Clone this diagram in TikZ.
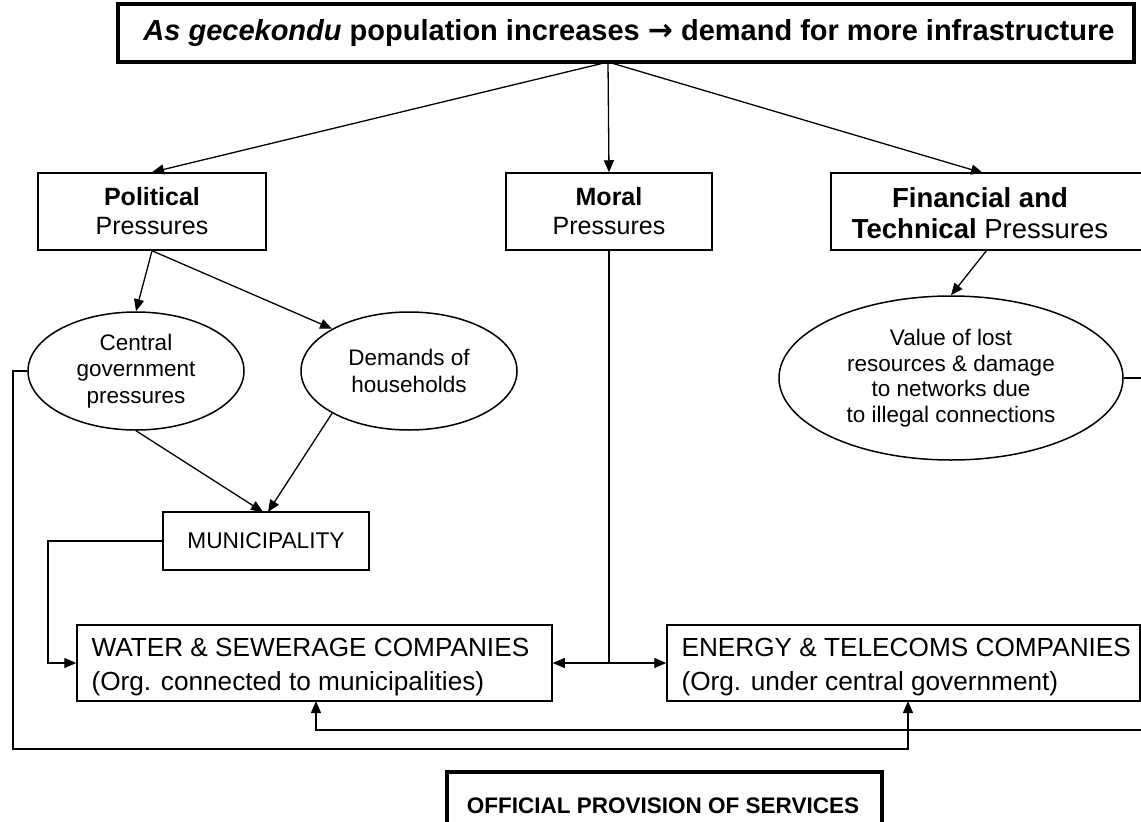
\documentclass[tikz,border=0pt]{standalone}
\usepackage{fontspec}
\setmainfont{Liberation Sans}
\newfontfamily\arrowfont{DejaVu Sans}
\usetikzlibrary{arrows.meta,shapes.geometric}

\tikzset{
  conn/.style={line width=1.3pt},
  arr/.style={conn,-{Triangle[length=12pt,width=10pt]}},
  pbox/.style={draw,line width=1.5pt,rectangle,inner sep=0pt,align=center,
    font=\fontsize{25}{29}\selectfont},
  oval/.style={draw,line width=1.5pt,ellipse,inner sep=0pt,align=center,
    font=\fontsize{22.5}{26.5}\selectfont},
  cobox/.style={draw,line width=1.5pt,rectangle,inner sep=0pt},
  cotext/.style={anchor=west,align=left,font=\fontsize{26.2}{34.5}\selectfont},
  heavybox/.style={draw,line width=4pt,rectangle,inner sep=0pt,align=center},
}

\begin{document}
\begin{tikzpicture}[x=1pt,y=-1pt]
\useasboundingbox (0,0) rectangle (1141,822);
\fill[white] (0,0) rectangle (1141,822);

% headline
\node[heavybox,minimum width=1016pt,minimum height=58pt] (head) at (626,33) {};
\node[font=\bfseries\fontsize{29}{32}\selectfont] (headtxt) at (629,33)
  {\itshape As gecekondu\upshape{} population increases
   {\arrowfont\bfseries\fontsize{30}{32}\selectfont →} demand for more infrastructure};
\coordinate (apex) at (608,62);

% three kinds of pressure
\node[pbox,minimum width=228pt,minimum height=77pt] (pol) at (152,211.5)
  {\textbf{Political}\\Pressures};
\node[pbox,minimum width=206pt,minimum height=77pt] (mor) at (609,211.5)
  {\textbf{Moral}\\Pressures};
\node[pbox,minimum width=330pt,minimum height=77pt] (fin) at (996,211.5) {};
\node[font=\fontsize{27.5}{31}\selectfont,align=center] (fintxt) at (980,213)
  {\textbf{Financial and}\\\textbf{Technical} Pressures};
\coordinate (finin) at (983,173);
\coordinate (finout) at (987,250);

\draw[arr] (apex) -- (pol.north);
\draw[arr] (apex) -- (mor.north);
\draw[arr] (apex) -- (finin);

% ovals
\node[oval,minimum width=216pt,minimum height=118pt] (cen) at (136,371)
  {Central\\government\\pressures};
\node[oval,minimum width=216pt,minimum height=118pt] (dem) at (409,371)
  {Demands of\\households};
\node[oval,minimum width=344pt,minimum height=164pt,
  font=\fontsize{22.5}{25.5}\selectfont] (val) at (951,378)
  {Value of lost\\resources \& damage\\to networks due\\to illegal connections};

\draw[arr] (pol.south) -- (cen.north);
\draw[arr] (pol.south) -- (dem.north west);
\draw[arr] (finout) -- (val.north);

% municipality
\node[pbox,minimum width=206pt,minimum height=58pt,
  font=\fontsize{22.7}{26}\selectfont] (mun) at (266,541) {MUNICIPALITY};
\draw[arr] (cen.south) -- (263,512);
\draw[arr] (dem.south west) -- (268,512);

% companies
\node[cobox,minimum width=475pt,minimum height=76pt] (wat) at (314.5,663) {};
\node[cotext] (wattxt) at (88,667)
  {WATER \& SEWERAGE COMPANIES\\(Org. connected to municipalities)};
\node[cobox,minimum width=473pt,minimum height=76pt] (ene) at (903.5,663) {};
\node[cotext] (enetxt) at (678,667)
  {ENERGY \& TELECOMS COMPANIES\\(Org. under central government)};

\coordinate (split) at (mor.south |- wat.east);
\draw[conn] (mor.south) -- (split);
\draw[arr] (split) -- (wat.east);
\draw[arr] (split) -- (ene.west);

\draw[arr] (mun.west) -- (48,541) -- (48,663) -- (wat.west);

\coordinate (wup) at (316,701);
\coordinate (eup) at (908,701);
\draw[arr] (val.east) -- (1160,378) -- (1160,730) -- (316,730) -- (wup);
\draw[arr] (cen.west) -- (13,371) -- (13,749) -- (908,749) -- (eup);

% bottom caption
\node[heavybox,minimum width=435pt,minimum height=70pt,anchor=north west] (off) at (445,770) {};
\node[font=\bfseries\fontsize{22.5}{26}\selectfont] (offtxt) at (663,806)
  {OFFICIAL PROVISION OF SERVICES};
\end{tikzpicture}
\end{document}
